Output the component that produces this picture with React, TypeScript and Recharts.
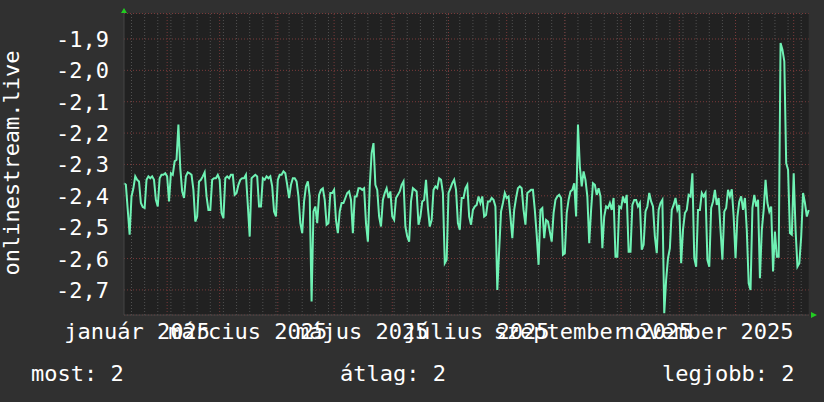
import { LineChart, Line, XAxis, YAxis, CartesianGrid, ReferenceLine } from 'recharts';

// daily values, day 0 = 2025-01-09
const values = [
  // jan 9 - mar 10
  -2.36, -2.365, -2.445, -2.524, -2.402, -2.376, -2.338, -2.349, -2.354, -2.423,
  -2.436, -2.439, -2.349, -2.338, -2.344, -2.338, -2.349, -2.413, -2.434, -2.344,
  -2.333, -2.333, -2.328, -2.338, -2.418, -2.328, -2.333, -2.29, -2.285, -2.173,
  -2.312, -2.386, -2.407, -2.338, -2.325, -2.328, -2.333, -2.381, -2.482, -2.466,
  -2.354, -2.349, -2.338, -2.325, -2.402, -2.445, -2.445, -2.349, -2.344, -2.344,
  -2.333, -2.349, -2.455, -2.471, -2.344, -2.338, -2.344, -2.333, -2.333, -2.397,
  -2.391,
  // mar 11 - may 10
  -2.365, -2.349, -2.344, -2.344, -2.333, -2.429, -2.53, -2.344, -2.338, -2.333,
  -2.338, -2.434, -2.434, -2.344, -2.349, -2.338, -2.344, -2.338, -2.37, -2.45,
  -2.466, -2.349, -2.333, -2.333, -2.322, -2.328, -2.365, -2.407, -2.365, -2.344,
  -2.344, -2.354, -2.402, -2.487, -2.519, -2.418, -2.37, -2.354, -2.402, -2.737,
  -2.45, -2.434, -2.487, -2.397, -2.381, -2.376, -2.413, -2.492, -2.487, -2.391,
  -2.391, -2.381, -2.477, -2.519, -2.45, -2.423, -2.423, -2.407, -2.391, -2.386,
  -2.413,
  // may 11 - jul 10
  -2.519, -2.402, -2.402, -2.376, -2.376, -2.381, -2.376, -2.487, -2.546, -2.37,
  -2.264, -2.232, -2.365, -2.381, -2.466, -2.498, -2.413, -2.391, -2.376, -2.407,
  -2.386, -2.466, -2.477, -2.407, -2.397, -2.386, -2.365, -2.354, -2.498, -2.53,
  -2.546, -2.418, -2.376, -2.381, -2.386, -2.492, -2.466, -2.418, -2.413, -2.349,
  -2.439, -2.498, -2.477, -2.381, -2.37, -2.376, -2.344, -2.349, -2.391, -2.615,
  -2.604, -2.391, -2.376, -2.36, -2.349, -2.381, -2.487, -2.508, -2.407, -2.407,
  -2.376,
  // jul 11 - sep 9
  -2.365, -2.466, -2.492, -2.445, -2.434, -2.429, -2.402, -2.423, -2.402, -2.466,
  -2.461, -2.418, -2.418, -2.407, -2.413, -2.434, -2.7, -2.572, -2.45, -2.423,
  -2.391, -2.407, -2.402, -2.466, -2.535, -2.445, -2.407, -2.376, -2.37, -2.376,
  -2.445, -2.492, -2.391, -2.386, -2.381, -2.381, -2.445, -2.524, -2.62, -2.445,
  -2.439, -2.535, -2.477, -2.482, -2.514, -2.546, -2.455, -2.413, -2.402, -2.397,
  -2.407, -2.588, -2.583, -2.455, -2.413, -2.386, -2.381, -2.36, -2.466, -2.173,
  -2.306,
  // sep 10 - nov 9
  -2.37, -2.322, -2.349, -2.402, -2.551, -2.445, -2.36, -2.365, -2.397, -2.376,
  -2.402, -2.567, -2.466, -2.434, -2.439, -2.423, -2.445, -2.407, -2.594, -2.594,
  -2.434, -2.439, -2.402, -2.423, -2.397, -2.578, -2.578, -2.429, -2.413, -2.413,
  -2.434, -2.423, -2.572, -2.556, -2.45, -2.434, -2.391, -2.418, -2.434, -2.53,
  -2.583, -2.445, -2.423, -2.413, -2.774, -2.668, -2.599, -2.567, -2.445, -2.429,
  -2.407, -2.445, -2.429, -2.615, -2.508, -2.455, -2.445, -2.397, -2.402, -2.328,
  -2.599,
  // nov 10 - jan 9
  -2.626, -2.445, -2.445, -2.391, -2.402, -2.391, -2.604, -2.626, -2.439, -2.418,
  -2.381, -2.429, -2.407, -2.509, -2.604, -2.45, -2.439, -2.381, -2.402, -2.379,
  -2.466, -2.599, -2.466, -2.418, -2.402, -2.445, -2.407, -2.509, -2.679, -2.7,
  -2.439, -2.397, -2.434, -2.413, -2.663, -2.509, -2.445, -2.349, -2.423, -2.45,
  -2.434, -2.641, -2.514, -2.594, -2.594, -1.913, -1.934, -1.971, -2.296, -2.317,
  -2.519, -2.524, -2.328, -2.509, -2.626, -2.615, -2.53, -2.391, -2.423, -2.466,
  -2.445,
];

const yTicks = [-2.7, -2.6, -2.5, -2.4, -2.3, -2.2, -2.1, -2.0, -1.9];
// labels sit mid-month (month start + 15 days)
const labelDays = [7, 66, 127, 188, 250, 311];
const labelTexts = ['január 2025', 'március 2025', 'május 2025', 'július 2025', 'szeptember 2025', 'november 2025'];
const monthStartDays = [23, 51, 82, 112, 143, 173, 204, 235, 265, 296, 326, 357];
const weekStartDays = Array.from({ length: 52 }, (_, i) => 4 + 7 * i);

const data = values.map((value, day) => ({ day, value }));

const FONT = '"DejaVu Sans Mono", monospace';
const BG = '#303030';
const CANVAS = '#212121';
const LINE = '#6ff2b4';
const MAJOR = '#7a3a3a';
const MINOR = '#505050';

const XTick = ({ x, y, payload }: any) => {
  const i = labelDays.indexOf(payload.value);
  return (
    <text x={x} y={y} dy={24} textAnchor="middle" fill="#fff" fontFamily={FONT} fontSize={22}>
      {labelTexts[i]}
    </text>
  );
};

const YTick = ({ x, y, payload }: any) => (
  <text x={x} y={y} dy={8} textAnchor="end" fill="#fff" fontFamily={FONT} fontSize={22}>
    {payload.value.toFixed(1).replace('.', ',')}
  </text>
);

export default function App() {
  return (
    <div style={{ position: 'relative', width: 824, height: 402, background: BG }}>
      <style>{'body{margin:0}'}</style>
      <LineChart width={824} height={402} data={data} margin={{ top: 13.5, right: 15.3, bottom: 0, left: 0 }}>
        <CartesianGrid
          fill={CANVAS}
          vertical={false}
          stroke={MAJOR}
          strokeDasharray="1 2"
        />
        {weekStartDays.map((d) => (
          <ReferenceLine key={'w' + d} x={d} stroke={MINOR} strokeDasharray="1 2" />
        ))}
        {monthStartDays.map((d) => (
          <ReferenceLine key={'m' + d} x={d} stroke={MAJOR} strokeDasharray="1 2" />
        ))}
        <XAxis
          dataKey="day"
          type="number"
          domain={[0, 365]}
          ticks={labelDays}
          height={87}
          tickSize={0}
          tickMargin={0}
          tick={<XTick />}
          axisLine={{ stroke: '#444' }}
          interval={0}
        />
        <YAxis
          type="number"
          domain={[-2.78, -1.8187]}
          ticks={yTicks}
          width={124}
          tickSize={0}
          tickMargin={15}
          tick={<YTick />}
          axisLine={{ stroke: '#444' }}
          allowDataOverflow
          interval={0}
        />
        <Line
          type="linear"
          dataKey="value"
          stroke={LINE}
          strokeWidth={2}
          dot={false}
          isAnimationActive={false}
        />
      </LineChart>
      <svg width={824} height={402} style={{ position: 'absolute', left: 0, top: 0, pointerEvents: 'none' }}>
        <text
          transform="translate(19,163) rotate(-90)"
          textAnchor="middle"
          fill="#fff"
          fontFamily={FONT}
          fontSize={22}
        >
          onlinestream.live
        </text>
        <polygon points="121,13 127,13 124,8" fill="#22cc22" />
        <polygon points="811,312 811,318 817,315" fill="#22cc22" />
        <text x={31} y={381} fill="#fff" fontFamily={FONT} fontSize={22}>most: 2</text>
        <text x={340} y={381} fill="#fff" fontFamily={FONT} fontSize={22}>átlag: 2</text>
        <text x={662} y={381} fill="#fff" fontFamily={FONT} fontSize={22}>legjobb: 2</text>
      </svg>
    </div>
  );
}
